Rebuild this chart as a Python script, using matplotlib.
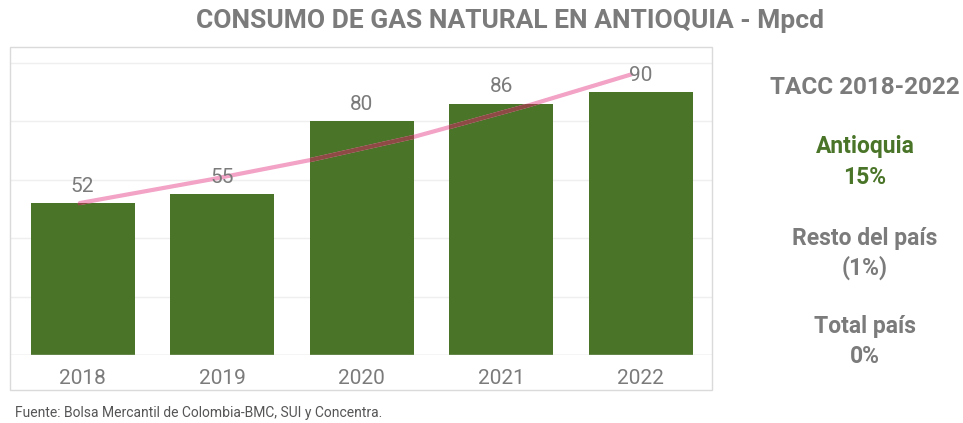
import matplotlib
matplotlib.use('Agg')
import matplotlib.pyplot as plt
import matplotlib.patches as patches
from matplotlib import font_manager as fm

# datos
years = ['2018', '2019', '2020', '2021', '2022']
consumo = [52, 55, 80, 86, 90]
# línea de tendencia
trend_x = [-0.02, 0.91, 1.63, 2.37, 3.20, 3.93]
trend_y = [52, 60, 66.7, 74.6, 85.5, 96]

tacc_title = 'TACC 2018-2022'
tacc_labels = ['Antioquia', 'Resto del país', 'Total país']
tacc_values = ['15%', '(1%)', '0%']

fuente = 'Fuente: Bolsa Mercantil de Colombia-BMC, SUI y Concentra.'

# colores
verde = '#4a7529'
gris = '#7b7b7b'
rosa = '#f2a3c6'
cafe = '#8e4b45'

nombres = {f.name for f in fm.fontManager.ttflist}
def fuente_ok(*cands):
    for c in cands:
        if c in nombres:
            return c
    return 'DejaVu Sans'

f_bold = fuente_ok('Roboto', 'DejaVu Sans')
f_num = fuente_ok('Roboto', 'DejaVu Sans')

W, H = 963, 423
fig = plt.figure(figsize=(W / 100, H / 100), dpi=100)

# marco gris claro
fig.patches.append(patches.Rectangle((10 / W, 33 / H), 702 / W, 343 / H,
                                     transform=fig.transFigure, fill=False,
                                     edgecolor='#dadada', linewidth=1))

ax = fig.add_axes([10 / W, 68 / H, 702 / W, 308 / H])
ax.set_xlim(-0.52, 4.51)
ax.set_ylim(0, 105.4)
for s in ax.spines.values():
    s.set_visible(False)
ax.set_yticks([20, 40, 60, 80, 100])
ax.set_yticklabels([])
ax.tick_params(axis='y', length=0)
ax.grid(axis='y', color='#efefef', linewidth=1)
ax.set_axisbelow(True)
ax.axhline(0, color='#d0d0d0', linewidth=1, zorder=3)

x = list(range(len(years)))
bars = ax.bar(x, consumo, width=0.745, color=verde, zorder=2)

# línea rosada encima, y tono café donde cruza las barras
ax.plot(trend_x, trend_y, color=rosa, linewidth=3, solid_capstyle='round', zorder=4)
for b in bars:
    ln, = ax.plot(trend_x, trend_y, color=cafe, linewidth=3, zorder=5)
    ln.set_clip_path(b)

for i, v in enumerate(consumo):
    ax.text(i, v + 5.8, str(v), ha='center', va='center', fontsize=15,
            color=gris, family=f_num, zorder=6)

ax.set_xticks(x)
ax.set_xticklabels(years, fontsize=15, color=gris, family=f_num)
ax.tick_params(axis='x', length=0, pad=10)

# título
fig.text(510 / W, 1 - 21 / H, 'CONSUMO DE GAS NATURAL EN ANTIOQUIA - Mpcd',
         ha='center', va='center', fontsize=19, fontweight='bold',
         color=gris, family=f_bold)

# panel derecho TACC
cx = 865 / W
fig.text(cx, 1 - 87 / H, tacc_title, ha='center', va='center', fontsize=17.5,
         fontweight='bold', color=gris, family=f_bold)
ys = [(147, 178), (238, 268), (326, 356)]
for k, (lab, val) in enumerate(zip(tacc_labels, tacc_values)):
    col = verde if k == 0 else gris
    fig.text(cx, 1 - ys[k][0] / H, lab, ha='center', va='center', fontsize=16.5,
             fontweight='bold', color=col, family=f_bold)
    fig.text(cx, 1 - ys[k][1] / H, val, ha='center', va='center', fontsize=16.5,
             fontweight='bold', color=col, family=f_bold)

fig.text(15 / W, 1 - 413 / H, fuente, ha='left', va='center', fontsize=10,
         color='#555555', family=f_bold)

fig.savefig('out.png', dpi=100)
